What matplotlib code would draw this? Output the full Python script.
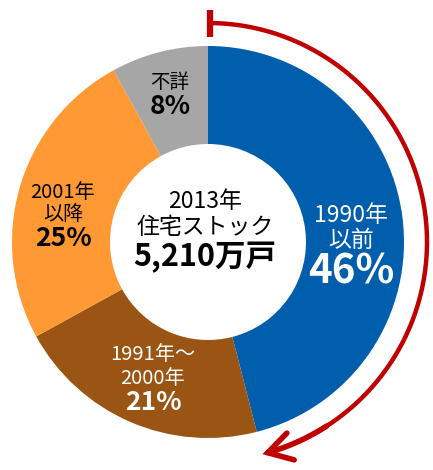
import numpy as np
import matplotlib.pyplot as plt
from matplotlib.patches import FancyArrowPatch
from matplotlib.path import Path

plt.rcParams['font.family'] = ['Noto Sans CJK JP', 'DejaVu Sans']

# data (clockwise from top)
categories = ["1990年\n以前", "1991年～\n2000年", "2001年\n以降", "不詳"]
shares = [46, 21, 25, 8]
colors = ["#005EAD", "#9A5413", "#FF9933", "#A6A6A6"]
text_colors = ["white", "white", "black", "black"]
center_title = "2013年\n住宅ストック"
center_total = "5,210万戸"

W, H = 433, 470
fig = plt.figure(figsize=(W / 100, H / 100), dpi=100)
ax = fig.add_axes([0, 0, 1, 1])

cx, cy = 208, H - 242
r_out, ring = 196, 98

ax.pie(shares, colors=colors, startangle=90, counterclock=False,
       radius=r_out, center=(cx, cy), frame=True,
       wedgeprops=dict(width=ring, linewidth=0))
ax.set_xlim(0, W)
ax.set_ylim(0, H)
ax.set_aspect("equal")
ax.axis("off")

# labels: (x, y_line1, y_line2, y_pct) in pixel coords from top
label_pos = [(351, 215, 240, 272), (153, 355, 378, 402), (63, 193, 215, 238), (170, 82, None, 106)]
name_size = [16.5, 14.5, 14.5, 14]
pct_size = [29, 19, 19, 19]
for cat, v, tc, pos, ns, ps in zip(categories, shares, text_colors, label_pos, name_size, pct_size):
    x, y1, y2, y3 = pos
    lines = cat.split("\n")
    ax.text(x, H - y1, lines[0], ha="center", va="center", color=tc, fontsize=ns)
    if len(lines) > 1:
        ax.text(x, H - y2, lines[1], ha="center", va="center", color=tc, fontsize=ns)
    ax.text(x, H - y3, f"{v}%", ha="center", va="center", color=tc,
            fontsize=ps, fontweight="bold")

# center text
t1, t2 = center_title.split("\n")
ax.text(205, H - 202, t1, ha="center", va="center", fontsize=16.5)
ax.text(205, H - 228, t2, ha="center", va="center", fontsize=16.5)
ax.text(205, H - 257, center_total, ha="center", va="center", fontsize=22, fontweight="bold")

# red arc arrow spanning the first wedge
red = "#C00000"
r_arc = 219
end_deg = 90 - 360 * shares[0] / 100
th = np.radians(np.linspace(90, end_deg, 100))
verts = np.column_stack([cx + r_arc * np.cos(th), cy + r_arc * np.sin(th)])
ax.plot(verts[:-3, 0], verts[:-3, 1], color=red, linewidth=3.2, solid_capstyle="butt")
# start tick
ax.plot([cx + 2, cx + 2], [cy + r_arc - 13.5, cy + r_arc + 13.5], color=red,
        linewidth=4.5, solid_capstyle="butt")
head = FancyArrowPatch(path=Path(verts[-12:]),
                       arrowstyle="->,head_length=17,head_width=10",
                       color=red, linewidth=4, mutation_scale=1,
                       capstyle="round", joinstyle="miter")
ax.add_patch(head)

fig.savefig("out.png", dpi=100)
